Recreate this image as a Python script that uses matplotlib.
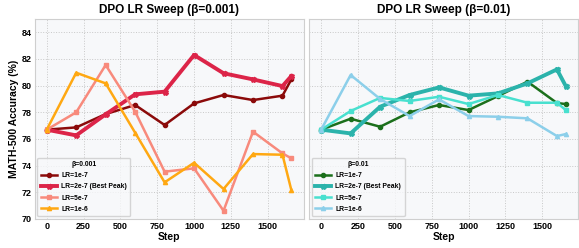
import matplotlib.pyplot as plt
import numpy as np

# steps evaluated (same for every run)
steps = [0, 200, 400, 600, 800, 1000, 1200, 1400, 1600, 1660]

# beta = 0.001
b001_lr1e7 = [76.7, 76.87, 77.87, 78.55, 77.05, 78.67, 79.3, 78.92, 79.25, 80.47]
b001_lr2e7 = [76.7, 76.27, 77.85, 79.35, 79.55, 82.3, 80.93, 80.47, 79.97, 80.72]
b001_lr5e7 = [76.7, 78.0, 81.55, 78.05, 73.55, 73.8, 70.62, 76.55, 74.92, 74.55]
b001_lr1e6 = [76.7, 80.97, 80.17, 76.47, 72.75, 74.22, 72.25, 74.87, 74.82, 72.17]

# beta = 0.01
b01_lr1e7 = [76.7, 77.52, 76.92, 78.0, 78.55, 78.17, 79.22, 80.3, 78.7, 78.62]
b01_lr2e7 = [76.7, 76.42, 78.42, 79.3, 79.87, 79.25, 79.42, 80.17, 81.22, 79.97]
b01_lr5e7 = [76.7, 78.1, 79.08, 78.85, 79.17, 78.62, 79.3, 78.72, 78.72, 78.17]
b01_lr1e6 = [76.7, 80.8, 79.0, 77.72, 78.97, 77.72, 77.67, 77.55, 76.22, 76.37]

labels = ["LR=1e-7", "LR=2e-7 (Best Peak)", "LR=5e-7", "LR=1e-6"]
markers = ["o", "X", "s", "^"]
widths = [1.8, 2.8, 1.8, 1.8]

panels = [
    ("DPO LR Sweep (β=0.001)", "β=0.001",
     [b001_lr1e7, b001_lr2e7, b001_lr5e7, b001_lr1e6],
     ["#8b0a0a", "#dc2448", "#f88a7c", "#ffa812"]),
    ("DPO LR Sweep (β=0.01)", "β=0.01",
     [b01_lr1e7, b01_lr2e7, b01_lr5e7, b01_lr1e6],
     ["#1b6f1b", "#2bb3ab", "#48e0cf", "#8ccfea"]),
]

plt.rcParams["font.family"] = ["Liberation Sans", "DejaVu Sans"]
plt.rcParams["font.weight"] = "bold"

fig, axes = plt.subplots(1, 2, figsize=(5.79, 2.48), dpi=100, sharey=True)
fig.subplots_adjust(left=34.5 / 579, right=578 / 579, bottom=1 - 219 / 248,
                    top=1 - 19 / 248, wspace=0.02)

for ax, (title, leg_title, series, colors) in zip(axes, panels):
    ax.set_facecolor("#f7f8fa")
    for vals, lab, mk, lw, c in zip(series, labels, markers, widths, colors):
        ax.plot(steps, vals, color=c, marker=mk, markersize=3.0 if lw < 2 else 3.6,
                linewidth=lw, label=lab)
    ax.set_title(title, fontsize=8.5, fontweight="bold", pad=4)
    ax.set_xlabel("Step", fontsize=7.5, fontweight="bold", labelpad=1)
    ax.grid(True, linestyle=":", color="#c8c8c8", linewidth=0.7)
    ax.set_ylim(70, 85)
    ax.set_yticks([70, 72, 74, 76, 78, 80, 82, 84])
    ax.set_xticks([0, 250, 500, 750, 1000, 1250, 1500])
    ax.tick_params(length=0, labelsize=6.5, pad=2)
    for lbl in ax.get_xticklabels() + ax.get_yticklabels():
        lbl.set_fontweight("bold")
    for s in ax.spines.values():
        s.set_color("#cfcfcf")
        s.set_linewidth(0.8)
    leg = ax.legend(title=leg_title, loc="lower left", fontsize=4.9,
                    title_fontsize=4.9, frameon=True, borderpad=0.5,
                    labelspacing=0.62, handlelength=2.4, handletextpad=0.6,
                    borderaxespad=0.4)
    leg.get_frame().set_facecolor("#f7f8fa")
    leg.get_frame().set_edgecolor("#cccccc")
    leg.get_title().set_fontweight("bold")
    for t in leg.get_texts():
        t.set_fontweight("bold")

axes[0].set_ylabel("MATH-500 Accuracy (%)", fontsize=7.5, fontweight="bold", labelpad=2)

fig.savefig("out.png", dpi=100)
